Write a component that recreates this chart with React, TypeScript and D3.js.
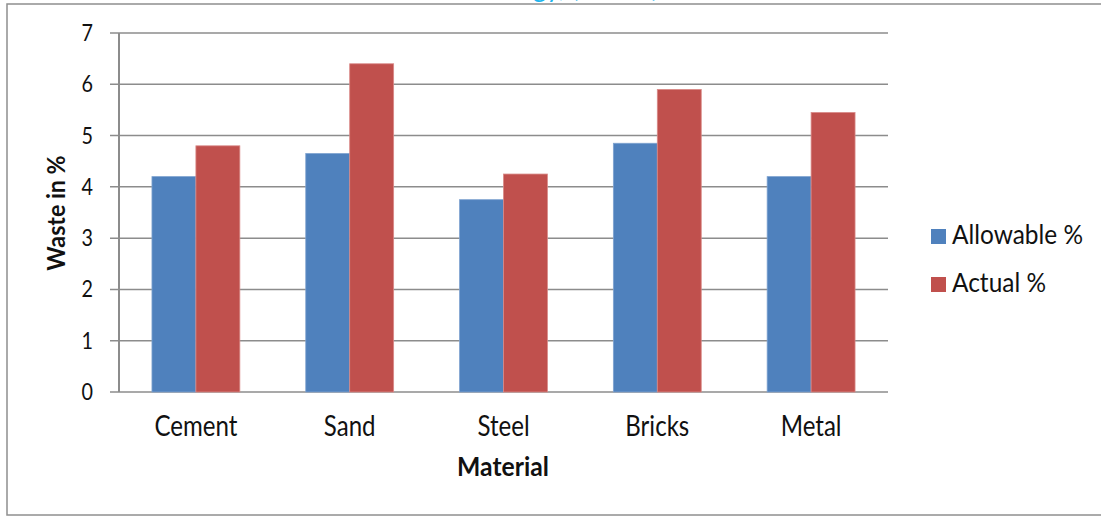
import { useEffect, useRef } from 'react';
import * as d3 from 'd3';

const materials = ['Cement', 'Sand', 'Steel', 'Bricks', 'Metal'];
const seriesNames = ['Allowable %', 'Actual %'];
const allowable = [4.2, 4.65, 3.75, 4.85, 4.2];
const actual = [4.8, 6.4, 4.25, 5.9, 5.45];
const yTicks = [0, 1, 2, 3, 4, 5, 6, 7];

const WIDTH = 1101;
const HEIGHT = 519;
const PLOT = { left: 119, right: 888, top: 33, bottom: 392 };
const COLORS = ['#4f81bd', '#c0504d'];
const EDGES = ['#7fa3d0', '#d98a88'];
const GRID = '#8c8c8c';
const FONT = 'Lato, "Open Sans", sans-serif';
const SQUEEZE = 0.86;

export default function App() {
  const svgRef = useRef<SVGSVGElement>(null);

  useEffect(() => {
    const svg = svgRef.current;
    if (!svg) return;
    d3.select(svg).selectAll('*').remove();
    const root = d3.select(svg);

    const x0 = d3
      .scaleBand<string>()
      .domain(materials)
      .range([PLOT.left, PLOT.right])
      .paddingInner(1.5 / 3.5)
      .paddingOuter(0.75 / 3.5);
    const x1 = d3.scaleBand<string>().domain(seriesNames).range([0, x0.bandwidth()]);
    const y = d3.scaleLinear().domain([0, 7]).range([PLOT.bottom, PLOT.top]);

    // clipped header text poking in from above
    root
      .append('text')
      .attr('x', 430)
      .attr('y', -3)
      .attr('fill', '#1fb5ee')
      .attr('font-family', FONT)
      .attr('font-size', 26)
      .text('Technology, (IJCIET)');

    // outer frame
    root
      .append('rect')
      .attr('x', 7)
      .attr('y', 4)
      .attr('width', WIDTH + 20)
      .attr('height', 511)
      .attr('fill', 'none')
      .attr('stroke', '#8f8f8f')
      .attr('stroke-width', 1.5);

    // gridlines + ticks
    root
      .selectAll('.grid')
      .data(yTicks)
      .enter()
      .append('line')
      .attr('x1', PLOT.left - 9)
      .attr('x2', PLOT.right)
      .attr('y1', (d) => y(d))
      .attr('y2', (d) => y(d))
      .attr('stroke', GRID)
      .attr('stroke-width', 1.5);

    root
      .append('line')
      .attr('x1', PLOT.left)
      .attr('x2', PLOT.left)
      .attr('y1', PLOT.top)
      .attr('y2', PLOT.bottom)
      .attr('stroke', GRID)
      .attr('stroke-width', 2);

    yTicks.forEach((t) => {
      root
        .append('text')
        .attr('transform', `translate(93,${y(t) + 8}) scale(${SQUEEZE},1)`)
        .attr('text-anchor', 'end')
        .attr('font-family', FONT)
        .attr('font-size', 23)
        .attr('fill', '#111')
        .text(t);
    });

    // bars
    materials.forEach((m, i) => {
      const vals = [allowable[i], actual[i]];
      seriesNames.forEach((s, j) => {
        root
          .append('rect')
          .attr('x', (x0(m) ?? 0) + (x1(s) ?? 0))
          .attr('y', y(vals[j]))
          .attr('width', x1.bandwidth())
          .attr('height', y(0) - y(vals[j]))
          .attr('fill', COLORS[j])
          .attr('stroke', EDGES[j])
          .attr('stroke-width', 0.8);
      });
      root
        .append('text')
        .attr('transform', `translate(${(x0(m) ?? 0) + x0.bandwidth() / 2},436) scale(${SQUEEZE},1)`)
        .attr('text-anchor', 'middle')
        .attr('font-family', FONT)
        .attr('font-size', 28)
        .attr('fill', '#111')
        .text(m);
    });

    // axis titles
    root
      .append('text')
      .attr('transform', 'translate(503,476) scale(0.95,1)')
      .attr('text-anchor', 'middle')
      .attr('font-family', FONT)
      .attr('font-weight', 'bold')
      .attr('font-size', 26)
      .attr('fill', '#111')
      .text('Material');

    root
      .append('text')
      .attr('transform', 'translate(65,213) rotate(-90) scale(0.93,1)')
      .attr('text-anchor', 'middle')
      .attr('font-family', FONT)
      .attr('font-weight', 'bold')
      .attr('font-size', 25)
      .attr('fill', '#111')
      .text('Waste in %');

    // legend
    seriesNames.forEach((s, j) => {
      const top = 229 + j * 48;
      root
        .append('rect')
        .attr('x', 931)
        .attr('y', top)
        .attr('width', 15)
        .attr('height', 15)
        .attr('fill', COLORS[j]);
      root
        .append('text')
        .attr('transform', `translate(952,${top + 15}) scale(0.94,1)`)
        .attr('font-family', FONT)
        .attr('font-size', 26)
        .attr('fill', '#111')
        .text(s);
    });
  }, []);

  return (
    <div style={{ position: 'absolute', left: 0, top: 0 }}>
      <svg ref={svgRef} width={WIDTH} height={HEIGHT} style={{ display: 'block', background: '#fff' }} />
    </div>
  );
}
